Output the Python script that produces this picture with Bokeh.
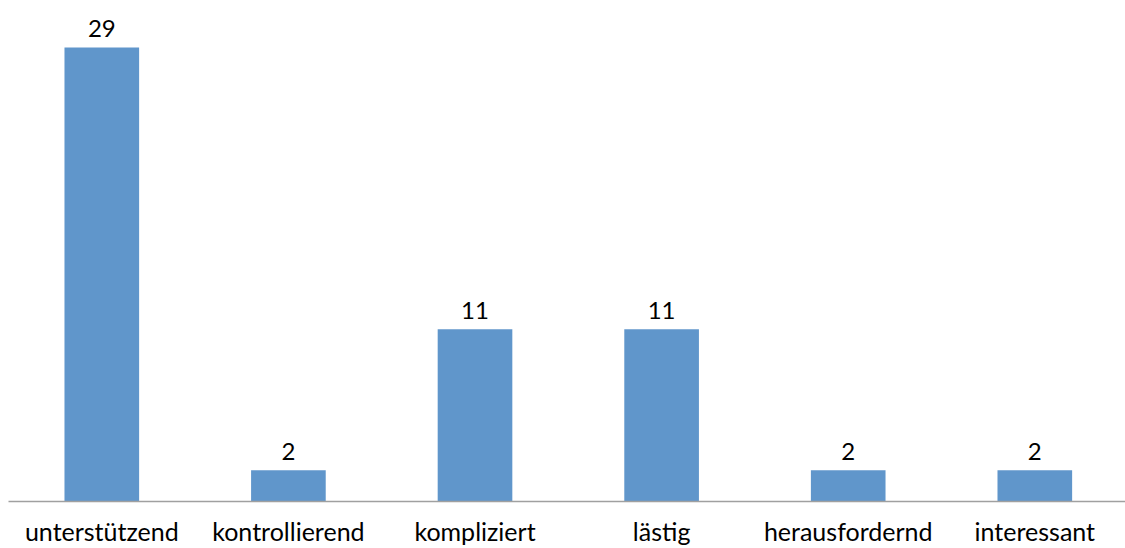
from bokeh.plotting import figure
from bokeh.models import FixedTicker, ColumnDataSource
from bokeh.core.properties import value
from bokeh.embed import file_html
from bokeh.resources import INLINE

categories = ["unterstützend", "kontrollierend", "kompliziert", "lästig", "herausfordernd", "interessant"]
counts = [29, 2, 11, 11, 2, 2]

FONT = "Lato"
BAR_COLOR = "#6096CB"

xs = list(range(len(categories)))
src = ColumnDataSource(dict(x=xs, top=counts, label=[str(c) for c in counts]))

p = figure(width=1125, height=548, output_backend="svg", toolbar_location=None,
           x_range=(-0.5, 5.486), y_range=(0, 32.01),
           min_border_left=8, min_border_right=0, min_border_top=0, min_border_bottom=0)
p.outline_line_color = None
p.background_fill_color = "white"
p.border_fill_color = "white"
p.grid.visible = False
p.yaxis.visible = False

p.vbar(x="x", top="top", bottom=0, width=0.4, source=src, fill_color=BAR_COLOR, line_color=None)
p.text(x="x", y="top", text="label", source=src, text_align="center", text_baseline="alphabetic",
       y_offset=-19, text_font=value(FONT), text_font_size="24px", text_color="black")

ax = p.xaxis[0]
ax.ticker = FixedTicker(ticks=xs)
ax.major_label_overrides = {i: c for i, c in enumerate(categories)}
ax.major_tick_line_color = None
ax.major_tick_in = 0
ax.major_tick_out = 0
ax.minor_tick_line_color = None
ax.minor_tick_in = 0
ax.minor_tick_out = 0
ax.axis_line_color = "#A0A0A0"
ax.axis_line_width = 1.5
ax.major_label_text_font = FONT
ax.major_label_text_font_size = "25px"
ax.major_label_text_color = "black"
ax.major_label_standoff = 14

open("out.html", "w").write(file_html(p, INLINE))
